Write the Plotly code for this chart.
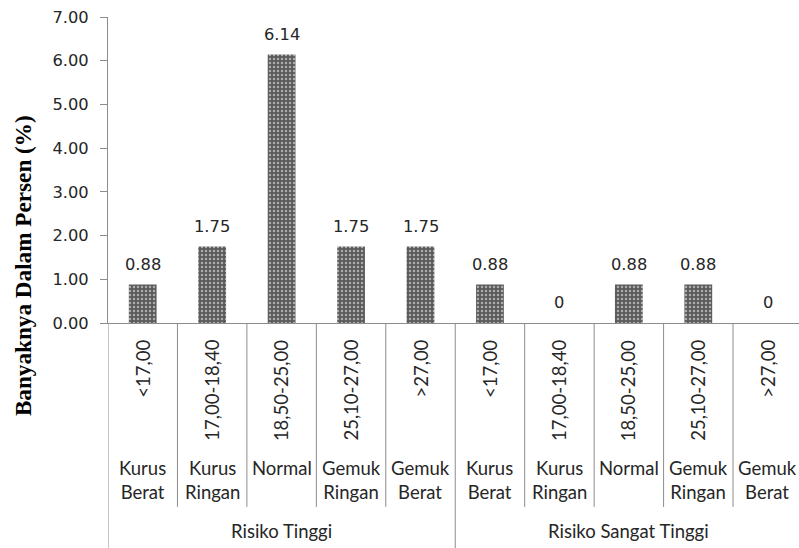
import plotly.graph_objects as go

# Data: percentage per BMI class, split into two risk groups
groups = ["Risiko Tinggi", "Risiko Sangat Tinggi"]
bmi_ranges = ["<17,00", "17,00-18,40", "18,50-25,00", "25,10-27,00", ">27,00"]
bmi_names = ["Kurus<br>Berat", "Kurus<br>Ringan", "Normal", "Gemuk<br>Ringan", "Gemuk<br>Berat"]
values_tinggi = [0.88, 1.75, 6.14, 1.75, 1.75]
values_sangat_tinggi = [0.88, 0.0, 0.88, 0.88, 0.0]
y_ticks = [0, 1, 2, 3, 4, 5, 6, 7]

values = values_tinggi + values_sangat_tinggi
n_per_group = len(bmi_ranges)
x_pos = list(range(len(values)))

TEXT = "#262626"
LINE = "#8c8c8c"
NUM_FONT = dict(family="DejaVu Sans", size=16.3, color=TEXT)
CAT_FONT = dict(family="Lato", size=18.5, color=TEXT)

fig = go.Figure()
fig.add_trace(go.Bar(
    x=x_pos,
    y=values,
    width=0.4,
    marker=dict(
        color="#5a5a5a",
        line=dict(width=0),
        pattern=dict(shape=".", fgcolor="#ffffff", bgcolor="#5a5a5a",
                     size=4, solidity=0.3),
    ),
    hoverinfo="skip",
    showlegend=False,
))

annotations = []
shapes = []

# value labels above each bar
for x, v in zip(x_pos, values):
    label = f"{v:.2f}" if v else "0"
    annotations.append(dict(x=x, y=v, xref="x", yref="y", text=label,
                            showarrow=False, yanchor="bottom", yshift=9,
                            font=NUM_FONT))

# three-level category axis: BMI range, class name, risk group
for gi, g in enumerate(groups):
    for ci in range(n_per_group):
        x = gi * n_per_group + ci
        annotations.append(dict(x=x, y=-0.049, xref="x", yref="paper",
                                text=bmi_ranges[ci], textangle=-90,
                                showarrow=False, xanchor="center", yanchor="top",
                                font=CAT_FONT))
        annotations.append(dict(x=x, y=-0.43, xref="x", yref="paper",
                                text=bmi_names[ci], showarrow=False,
                                xanchor="center", yanchor="top", align="center",
                                font=CAT_FONT))
    center = gi * n_per_group + (n_per_group - 1) / 2
    annotations.append(dict(x=center, y=-0.68, xref="x", yref="paper",
                            text=g, showarrow=False, xanchor="center",
                            yanchor="middle", font=CAT_FONT))

# separators between categories and between groups
for b in range(len(values) + 1):
    xb = b - 0.5
    is_group_edge = b % n_per_group == 0
    shapes.append(dict(type="line", xref="x", yref="paper",
                       x0=xb, x1=xb, y0=0,
                       y1=-0.74 if is_group_edge else -0.601,
                       line=dict(color=LINE, width=1)))

# y-axis title
annotations.append(dict(x=-0.123, y=0.186, xref="paper", yref="paper",
                        text="<b>Banyaknya Dalam Persen (%)</b>", textangle=-90,
                        showarrow=False, xanchor="center", yanchor="middle",
                        font=dict(family="Liberation Serif", size=23.2, color="#000000")))

fig.update_layout(
    width=799, height=548,
    margin=dict(l=108, r=0, t=17, b=225),
    paper_bgcolor="white", plot_bgcolor="white",
    annotations=annotations,
    shapes=shapes,
    bargap=0.6,
)
fig.update_xaxes(range=[-0.5, 9.45], showticklabels=False, ticks="",
                 showgrid=False, zeroline=False, showline=True,
                 linecolor=LINE, linewidth=1)
fig.update_yaxes(range=[0, 7], tickvals=y_ticks,
                 ticktext=[f"{t:.2f}" for t in y_ticks],
                 ticks="outside", ticklen=7, tickcolor=LINE,
                 ticklabelstandoff=8,
                 showgrid=False, zeroline=False, showline=True,
                 linecolor=LINE, linewidth=1, tickfont=NUM_FONT)

fig.write_html("out.html")
